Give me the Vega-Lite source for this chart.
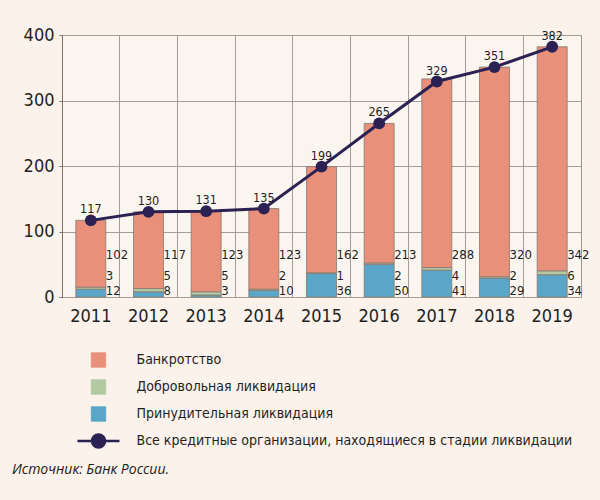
{
  "$schema": "https://vega.github.io/schema/vega-lite/v6.json",
  "autosize": {"type": "none"},
  "width": 519,
  "height": 262,
  "padding": {"left": 62, "top": 35, "right": 19, "bottom": 203},
  "background": "#faf2eb",
  "config": {
    "font": "'DejaVu Sans Condensed', 'DejaVu Sans', sans-serif",
    "view": {"stroke": "#9a948c", "strokeWidth": 1, "fill": "#fbf5f0"}
  },
  "title": {
    "text": "Источник: Банк России.",
    "orient": "bottom",
    "anchor": "start",
    "frame": "group",
    "font": "Open Sans",
    "fontStyle": "italic",
    "fontWeight": "normal",
    "fontSize": 14,
    "color": "#1a1a1a",
    "offset": 10,
    "dx": -50
  },
  "datasets": {
    "parts": [
      {"year": "2011", "type": "Принудительная ликвидация", "value": 12, "ord": 1},
      {"year": "2011", "type": "Добровольная ликвидация", "value": 3, "ord": 2},
      {"year": "2011", "type": "Банкротство", "value": 102, "ord": 3},
      {"year": "2012", "type": "Принудительная ликвидация", "value": 8, "ord": 1},
      {"year": "2012", "type": "Добровольная ликвидация", "value": 5, "ord": 2},
      {"year": "2012", "type": "Банкротство", "value": 117, "ord": 3},
      {"year": "2013", "type": "Принудительная ликвидация", "value": 3, "ord": 1},
      {"year": "2013", "type": "Добровольная ликвидация", "value": 5, "ord": 2},
      {"year": "2013", "type": "Банкротство", "value": 123, "ord": 3},
      {"year": "2014", "type": "Принудительная ликвидация", "value": 10, "ord": 1},
      {"year": "2014", "type": "Добровольная ликвидация", "value": 2, "ord": 2},
      {"year": "2014", "type": "Банкротство", "value": 123, "ord": 3},
      {"year": "2015", "type": "Принудительная ликвидация", "value": 36, "ord": 1},
      {"year": "2015", "type": "Добровольная ликвидация", "value": 1, "ord": 2},
      {"year": "2015", "type": "Банкротство", "value": 162, "ord": 3},
      {"year": "2016", "type": "Принудительная ликвидация", "value": 50, "ord": 1},
      {"year": "2016", "type": "Добровольная ликвидация", "value": 2, "ord": 2},
      {"year": "2016", "type": "Банкротство", "value": 213, "ord": 3},
      {"year": "2017", "type": "Принудительная ликвидация", "value": 41, "ord": 1},
      {"year": "2017", "type": "Добровольная ликвидация", "value": 4, "ord": 2},
      {"year": "2017", "type": "Банкротство", "value": 288, "ord": 3},
      {"year": "2018", "type": "Принудительная ликвидация", "value": 29, "ord": 1},
      {"year": "2018", "type": "Добровольная ликвидация", "value": 2, "ord": 2},
      {"year": "2018", "type": "Банкротство", "value": 320, "ord": 3},
      {"year": "2019", "type": "Принудительная ликвидация", "value": 34, "ord": 1},
      {"year": "2019", "type": "Добровольная ликвидация", "value": 6, "ord": 2},
      {"year": "2019", "type": "Банкротство", "value": 342, "ord": 3}
    ],
    "totals": [
      {"year": "2011", "total": 117},
      {"year": "2012", "total": 130},
      {"year": "2013", "total": 131},
      {"year": "2014", "total": 135},
      {"year": "2015", "total": 199},
      {"year": "2016", "total": 265},
      {"year": "2017", "total": 329},
      {"year": "2018", "total": 351},
      {"year": "2019", "total": 382}
    ]
  },
  "encoding": {
    "x": {
      "field": "year",
      "type": "ordinal",
      "title": null,
      "scale": {"paddingInner": 0, "paddingOuter": 0},
      "axis": {
        "labelAngle": 0,
        "labelFontSize": 18,
        "labelColor": "#1f1f1f",
        "labelPadding": 10,
        "ticks": false,
        "domain": false,
        "grid": true,
        "gridColor": "#a39d95",
        "gridWidth": 1,
        "bandPosition": 0
      }
    }
  },
  "layer": [
    {
      "data": {"name": "parts"},
      "mark": {"type": "bar", "width": {"band": 0.52}, "stroke": "#857870", "strokeWidth": 0.8},
      "encoding": {
        "y": {
          "field": "value",
          "type": "quantitative",
          "stack": "zero",
          "title": null,
          "scale": {"domain": [0, 400], "nice": false},
          "axis": {
            "values": [0, 100, 200, 300, 400],
            "labelFontSize": 18,
            "labelColor": "#1f1f1f",
            "labelPadding": 5,
            "tickSize": 3,
            "tickColor": "#7a746c",
            "domainColor": "#7a746c",
            "gridColor": "#a39d95",
            "gridWidth": 1
          }
        },
        "order": {"field": "ord", "type": "quantitative"},
        "color": {
          "field": "type",
          "type": "nominal",
          "scale": {
            "domain": ["Банкротство", "Добровольная ликвидация", "Принудительная ликвидация", "Все кредитные организации, находящиеся в стадии ликвидации"],
            "range": ["#e8907a", "#b4c9a3", "#5aa6c8", "#2b2152"]
          },
          "legend": {
            "orient": "none",
            "legendX": 29.5,
            "legendY": 318,
            "title": null,
            "padding": 0,
            "symbolSize": 210,
            "symbolType": {"expr": "datum.value === 'Все кредитные организации, находящиеся в стадии ликвидации' ? 'M-2.9,0H2.9M0.9,0L0.831,0.344L0.636,0.636L0.344,0.831L0,0.9L-0.344,0.831L-0.636,0.636L-0.831,0.344L-0.9,0L-0.831,-0.344L-0.636,-0.636L-0.344,-0.831L0,-0.9L0.344,-0.831L0.636,-0.636L0.831,-0.344Z' : 'M-1,-1H1V1H-1ZM0,-1.35M0,1.35'"},
            "symbolStrokeColor": {"expr": "datum.value === 'Все кредитные организации, находящиеся в стадии ликвидации' ? '#2b2152' : '#8a8078'"},
            "symbolStrokeWidth": {"expr": "datum.value === 'Все кредитные организации, находящиеся в стадии ликвидации' ? 2.5 : 0.8"},
            "labelFontSize": 14,
            "labelColor": "#1f1f1f",
            "labelOffset": 31,
            "rowPadding": 3,
            "labelLimit": 600
          }
        }
      }
    },
    {
      "data": {"name": "parts"},
      "transform": [{"filter": "datum.ord === 3"}],
      "mark": {"type": "text", "align": "left", "baseline": "middle", "dx": 15, "dy": -42, "fontSize": 13, "color": "#1f1f1f"},
      "encoding": {"y": {"datum": 0, "type": "quantitative"}, "text": {"field": "value", "type": "quantitative"}}
    },
    {
      "data": {"name": "parts"},
      "transform": [{"filter": "datum.ord === 2"}],
      "mark": {"type": "text", "align": "left", "baseline": "middle", "dx": 15, "dy": -21, "fontSize": 13, "color": "#1f1f1f"},
      "encoding": {"y": {"datum": 0, "type": "quantitative"}, "text": {"field": "value", "type": "quantitative"}}
    },
    {
      "data": {"name": "parts"},
      "transform": [{"filter": "datum.ord === 1"}],
      "mark": {"type": "text", "align": "left", "baseline": "middle", "dx": 15, "dy": -6, "fontSize": 13, "color": "#1f1f1f"},
      "encoding": {"y": {"datum": 0, "type": "quantitative"}, "text": {"field": "value", "type": "quantitative"}}
    },
    {
      "data": {"name": "totals"},
      "mark": {"type": "line", "strokeWidth": 3},
      "encoding": {
        "y": {"field": "total", "type": "quantitative"},
        "color": {"datum": "Все кредитные организации, находящиеся в стадии ликвидации", "type": "nominal"}
      }
    },
    {
      "data": {"name": "totals"},
      "mark": {"type": "point", "filled": true, "opacity": 1, "size": 140},
      "encoding": {
        "y": {"field": "total", "type": "quantitative"},
        "color": {"datum": "Все кредитные организации, находящиеся в стадии ликвидации", "type": "nominal"}
      }
    },
    {
      "data": {"name": "totals"},
      "mark": {"type": "text", "baseline": "bottom", "dy": -4, "fontSize": 12.5, "color": "#1f1f1f"},
      "encoding": {
        "y": {"field": "total", "type": "quantitative"},
        "text": {"field": "total", "type": "quantitative"}
      }
    }
  ]
}
